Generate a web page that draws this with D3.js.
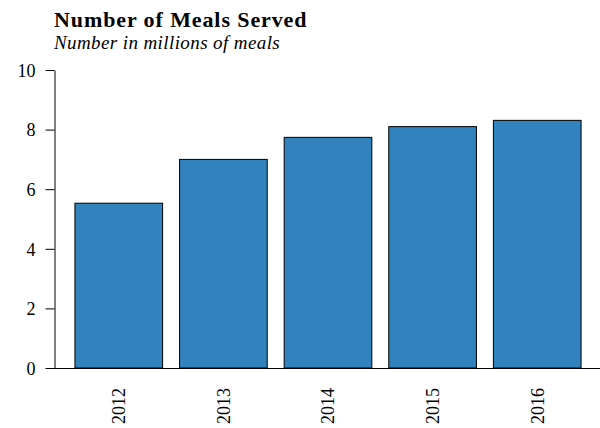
<!DOCTYPE html>
<html>
<head>
<meta charset="utf-8">
<script src="https://cdn.jsdelivr.net/npm/d3@7"></script>
<style>
  body { margin: 0; background: #fff; }
  svg { display: block; font-family: "Liberation Serif", "Times New Roman", serif; }
  .axis text { font-size: 18px; font-family: "Liberation Serif", serif; fill: #000; }
  .axis path, .axis line { stroke: #000; }
</style>
</head>
<body>
<div id="chart"></div>
<script>
// data
var years = ["2012", "2013", "2014", "2015", "2016"];
var meals = [5.53, 7.0, 7.74, 8.1, 8.31];
var yTicks = [0, 2, 4, 6, 8, 10];

var width = 600, height = 428;
var margin = {left: 54, right: 0, top: 70, bottom: 60};

var svg = d3.select("#chart").append("svg")
    .attr("width", width)
    .attr("height", height);

var x = d3.scaleBand()
    .domain(years)
    .range([56, 600])
    .paddingInner(0.162)
    .paddingOuter(0.181);

var y = d3.scaleLinear()
    .domain([0, 10])
    .range([368, 70]);

// title
svg.append("text")
    .attr("x", 54)
    .attr("y", 26.5)
    .style("font-size", "22px")
    .style("font-weight", "bold")
    .style("letter-spacing", "0.9px")
    .text("Number of Meals Served");

svg.append("text")
    .attr("x", 54)
    .attr("y", 48.5)
    .style("font-size", "19px")
    .style("font-style", "italic")
    .style("letter-spacing", "0.4px")
    .text("Number in millions of meals");

// bars
svg.append("g")
    .selectAll("rect")
    .data(meals)
    .enter().append("rect")
        .attr("x", function(d, i) { return x(years[i]); })
        .attr("y", function(d) { return y(d); })
        .attr("width", x.bandwidth())
        .attr("height", function(d) { return y(0) - y(d); })
        .style("fill", "#3182bd")
        .style("stroke", "#000")
        .style("stroke-width", 1);

// baseline
svg.append("line")
    .attr("x1", margin.left)
    .attr("x2", width)
    .attr("y1", y(0) + 0.5)
    .attr("y2", y(0) + 0.5)
    .style("stroke", "#000");

// y axis
var yAxis = svg.append("g")
    .attr("class", "axis")
    .attr("transform", "translate(" + (margin.left + 0.5) + ",0)")
    .call(d3.axisLeft(y).tickValues(yTicks).tickSize(9).tickSizeOuter(0).tickPadding(10));
yAxis.selectAll("text").attr("dy", "0.35em");

// x labels, rotated
svg.append("g")
    .attr("class", "axis")
    .selectAll("text")
    .data(years)
    .enter().append("text")
        .attr("transform", function(d) {
            return "translate(" + (x(d) + x.bandwidth() / 2) + ",388) rotate(-90)";
        })
        .attr("text-anchor", "end")
        .attr("dy", "0.35em")
        .text(function(d) { return d; });
</script>
</body>
</html>
